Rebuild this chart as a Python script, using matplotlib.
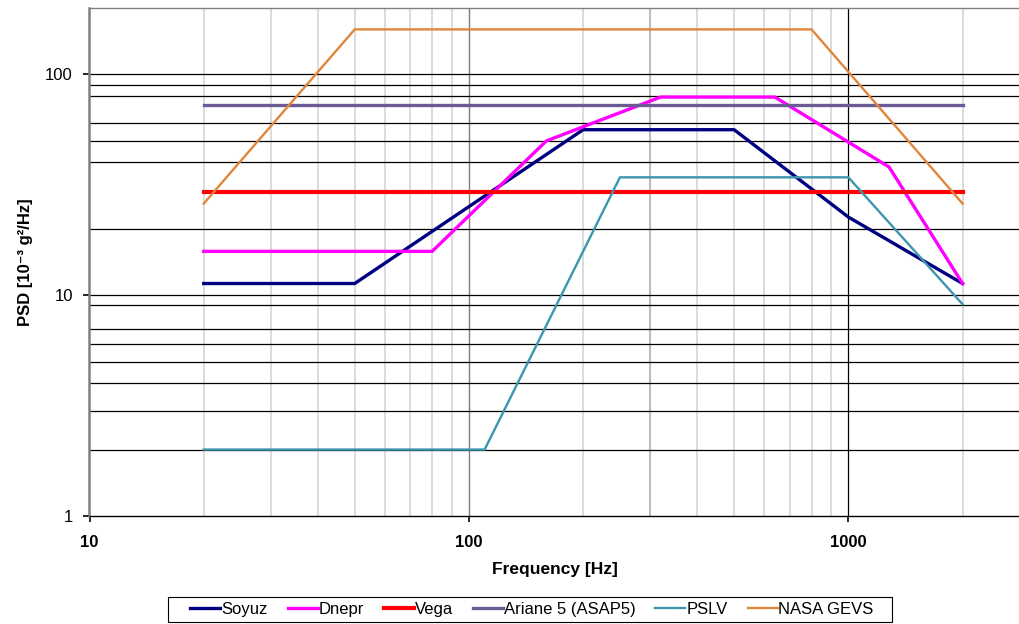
import matplotlib
matplotlib.use("Agg")
import matplotlib.pyplot as plt
from matplotlib.ticker import FixedLocator, NullLocator, FixedFormatter
from matplotlib.patches import Rectangle

plt.rcParams['font.family'] = ['Liberation Sans', 'DejaVu Sans']

# Perfiles PSD de vibracion aleatoria (frecuencia [Hz], PSD [10^-3 g^2/Hz])
soyuz_f = [20, 50, 200, 500, 1000, 2000]
soyuz_p = [11.3, 11.3, 56.2, 56.2, 22.6, 11.3]

dnepr_f = [20, 80, 160, 320, 640, 1280, 2000]
dnepr_p = [15.8, 15.8, 50, 79, 79, 38.1, 11.3]

vega_f = [20, 2000]
vega_p = [29.3, 29.3]

ariane_f = [20, 2000]
ariane_p = [72.6, 72.6]

pslv_f = [20, 110, 250, 1000, 2000]
pslv_p = [2.0, 2.0, 34.2, 34.2, 9.1]

gevs_f = [20, 50, 800, 2000]
gevs_p = [26, 160, 160, 26]

# lineas de rejilla tal como aparecen en la figura original
hgrid = [2, 3, 4, 5, 6, 7, 9, 10, 20, 40, 50, 60, 80, 90, 100]
vgrid_light = [20, 30, 40, 50, 60, 70, 80, 90, 200, 400, 500, 600, 700, 800, 900, 2000]
vgrid_mid = [300]
vgrid_dark = [100]
vgrid_black = [1000]

xticks = [10, 100, 1000]
yticks = [1, 10, 100]

fig = plt.figure(figsize=(10.2, 6.24), dpi=100)
ax = fig.add_axes([89.5 / 1020, 108 / 624, (1020 - 89.5) / 1020, 508 / 624])
ax.set_xscale('log')
ax.set_yscale('log')
ax.set_xlim(10, 2834)
ax.set_ylim(1, 200)

for v in vgrid_light:
    ax.axvline(v, color='#d9d9d9', lw=1.3, zorder=0)
for v in vgrid_mid:
    ax.axvline(v, color='#bdbdbd', lw=1.5, zorder=0)
for v in vgrid_dark:
    ax.axvline(v, color='#7f7f7f', lw=1.0, zorder=0)
for v in vgrid_black:
    ax.axvline(v, color='black', lw=0.9, zorder=0)
for h in hgrid:
    ax.axhline(h, color='black', lw=0.9, zorder=0.5)

ax.plot(soyuz_f, soyuz_p, color='#000080', lw=2.4, label='Soyuz')
ax.plot(dnepr_f, dnepr_p, color='#ff00ff', lw=2.4, label='Dnepr')
ax.plot(vega_f, vega_p, color='#ff0000', lw=3.0, label='Vega')
ax.plot(ariane_f, ariane_p, color='#6b5b95', lw=2.4, label='Ariane 5 (ASAP5)')
ax.plot(pslv_f, pslv_p, color='#3d96ae', lw=1.7, label='PSLV')
ax.plot(gevs_f, gevs_p, color='#e0863a', lw=1.7, label='NASA GEVS')

ax.xaxis.set_major_locator(FixedLocator(xticks))
ax.xaxis.set_major_formatter(FixedFormatter([str(t) for t in xticks]))
ax.yaxis.set_major_locator(FixedLocator(yticks))
ax.yaxis.set_major_formatter(FixedFormatter([str(t) for t in yticks]))
ax.xaxis.set_minor_locator(NullLocator())
ax.yaxis.set_minor_locator(NullLocator())

ax.tick_params(axis='x', direction='out', length=4, width=1.2, pad=10, labelsize=12)
ax.tick_params(axis='y', direction='out', length=4, width=1.2, pad=8, labelsize=12)
for lbl in ax.get_xticklabels():
    lbl.set_fontweight('bold')

ax.spines['left'].set_color('#808080')
ax.spines['left'].set_linewidth(1.8)
ax.spines['top'].set_color('#808080')
ax.spines['top'].set_linewidth(1.0)
ax.spines['bottom'].set_color('black')
ax.spines['bottom'].set_linewidth(1.0)
ax.spines['right'].set_visible(False)

ax.set_xlabel('Frequency [Hz]', fontsize=12.5, fontweight='bold', labelpad=8)
ax.set_ylabel('PSD [10⁻³ g²/Hz]', fontsize=12, fontweight='bold', labelpad=9)

# marco de la leyenda (mas ancho que el contenido, como en el original)
fig.patches.append(Rectangle((168 / 1020, 2 / 624), 724 / 1020, 25 / 624, transform=fig.transFigure,
                             facecolor='none', edgecolor='black', lw=0.8, zorder=5))
leg = ax.legend(loc='center', bbox_to_anchor=(532 / 1020, 14.5 / 624), bbox_transform=fig.transFigure,
                ncol=6, frameon=False, fontsize=12, handlelength=1.8,
                handletextpad=0.05, columnspacing=1.2, borderpad=0.2)

fig.savefig('out.png', dpi=100)
